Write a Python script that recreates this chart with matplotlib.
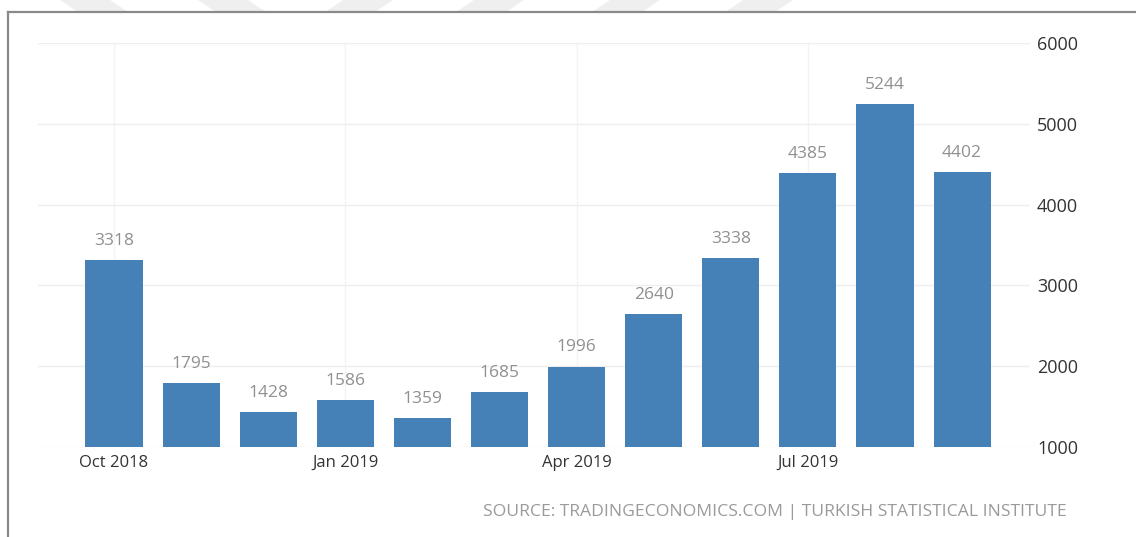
import matplotlib
matplotlib.use("Agg")
import matplotlib.pyplot as plt
from matplotlib.patches import Polygon

months = ["Oct 2018", "Nov 2018", "Dec 2018", "Jan 2019", "Feb 2019", "Mar 2019",
          "Apr 2019", "May 2019", "Jun 2019", "Jul 2019", "Aug 2019", "Sep 2019"]
values = [3318, 1795, 1428, 1586, 1359, 1685, 1996, 2640, 3338, 4385, 5244, 4402]
tick_idx = [0, 3, 6, 9]
yticks = [1000, 2000, 3000, 4000, 5000, 6000]

W, H = 1136, 537
plt.rcParams['font.family'] = ['Open Sans', 'DejaVu Sans']

fig = plt.figure(figsize=(W / 100, H / 100), dpi=100)
fig.patch.set_facecolor("white")

# faint chevron bands across the top edge
bands = [(60, "\\"), (198, "\\"), (325, "/"), (456, "/"), (592, "/"), (725, "/")]
for x0, d in bands:
    if d == "\\":
        pts = [(x0, 0), (x0 + 50, 0), (x0 + 68, 12), (x0 + 18, 12)]
    else:
        pts = [(x0 + 18, 0), (x0 + 68, 0), (x0 + 50, 12), (x0, 12)]
    pts = [(px / W, 1 - py / H) for px, py in pts]
    fig.patches.append(Polygon(pts, closed=True, transform=fig.transFigure,
                               facecolor="#efefef", edgecolor="none", zorder=0))

# frame on left and top
fig.add_artist(plt.Line2D([8 / W, 8 / W], [0, 1 - 12 / H], transform=fig.transFigure,
                          color="#8a8a8a", lw=1.6))
fig.add_artist(plt.Line2D([8 / W, 1], [1 - 12 / H, 1 - 12 / H], transform=fig.transFigure,
                          color="#8a8a8a", lw=1.6))

left, right, top, bottom = 38, 1030, 43, 447
ax = fig.add_axes([left / W, 1 - bottom / H, (right - left) / W, (bottom - top) / H])
ax.set_facecolor("none")

x = list(range(len(values)))
ax.bar(x, values, width=0.74, bottom=0, color="#4581b7", zorder=3)

for xi, v in zip(x, values):
    ax.annotate(str(v), (xi, v), xytext=(0, 8), textcoords="offset points",
                ha="center", va="bottom", fontsize=12.5, color="#909090")

ax.set_xlim((left - 114) / 77.1, (right - 114) / 77.1)
ax.set_ylim(1000, 6000)

ax.set_xticks(tick_idx)
ax.set_xticklabels([months[i] for i in tick_idx])
ax.set_yticks(yticks)
ax.yaxis.tick_right()
ax.tick_params(axis="x", length=0, pad=6, labelsize=12, labelcolor="#333333")
ax.tick_params(axis="y", length=0, pad=5, labelsize=13, labelcolor="#333333")
for lbl in ax.get_yticklabels():
    lbl.set_horizontalalignment("left")

ax.grid(axis="y", color="#eeeeee", lw=1, zorder=0)
ax.grid(axis="x", color="#f4f4f4", lw=1, zorder=0)
for s in ax.spines.values():
    s.set_visible(False)

fig.text(1067 / W, 1 - 512 / H,
         "SOURCE: TRADINGECONOMICS.COM | TURKISH STATISTICAL INSTITUTE",
         ha="right", va="center", fontsize=12.6, color="#9a9a9a")

fig.savefig("out.png", dpi=100)
